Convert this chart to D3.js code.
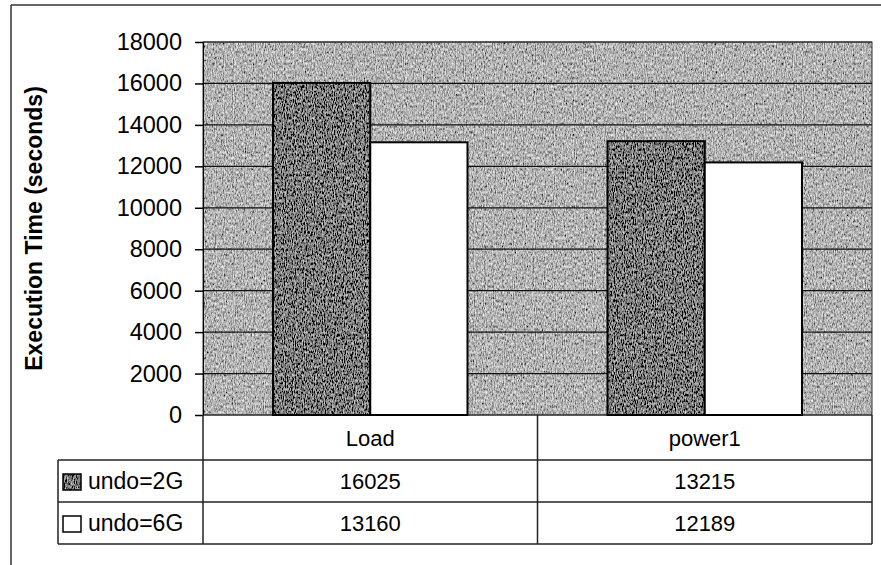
<!DOCTYPE html>
<html>
<head>
<meta charset="utf-8">
<script src="https://cdn.jsdelivr.net/npm/d3@7"></script>
<style>
  body { margin: 0; background: #fff; }
  svg text { font-family: Arial, "Liberation Sans", sans-serif; fill: #000; }
</style>
</head>
<body>
<svg id="chart" width="881" height="565"></svg>
<script>
const categories = ["Load", "power1"];
const seriesNames = ["undo=2G", "undo=6G"];
const undo2G = [16025, 13215];
const undo6G = [13160, 12189];
const yTicks = [0, 2000, 4000, 6000, 8000, 10000, 12000, 14000, 16000, 18000];

const svg = d3.select("#chart");
const plot = { left: 203, right: 872, top: 42, bottom: 415 };
const rowH = [45, 42, 42];
const fs = 22;

// noise filters to mimic the scanned grey fill
const defs = svg.append("defs");
function noise(id, seed, lo, hi) {
  const f = defs.append("filter").attr("id", id).attr("x", 0).attr("y", 0).attr("width", 1).attr("height", 1);
  f.append("feTurbulence").attr("type", "fractalNoise").attr("baseFrequency", "0.9 0.35")
    .attr("numOctaves", 2).attr("seed", seed).attr("result", "n");
  const ct = f.append("feComponentTransfer").attr("in", "n").attr("result", "g");
  ["R", "G", "B"].forEach(c => ct.append("feFunc" + c).attr("type", "linear").attr("slope", hi - lo).attr("intercept", lo));
  ct.append("feFuncA").attr("type", "linear").attr("slope", 0).attr("intercept", 1);
  f.append("feColorMatrix").attr("in", "g").attr("type", "matrix")
    .attr("values", "0 1 0 0 0  0 1 0 0 0  0 1 0 0 0  0 0 0 1 0");
}
noise("bgNoise", 3, -0.2, 1.1);
noise("darkNoise", 7, -0.5, 0.9);

// outer frame
svg.append("line").attr("x1", 11).attr("x2", 881).attr("y1", 5).attr("y2", 5).attr("stroke", "#333").attr("stroke-width", 1.5);
svg.append("line").attr("x1", 11).attr("x2", 11).attr("y1", 5).attr("y2", 565).attr("stroke", "#333").attr("stroke-width", 1.5);

const y = d3.scaleLinear().domain([0, 18000]).range([plot.bottom, plot.top]);
const x0 = d3.scaleBand().domain(categories).range([plot.left, plot.right]);
const x1 = d3.scaleBand().domain(seriesNames).range([0, x0.bandwidth()]).paddingOuter(0.72).paddingInner(0);

// plot background
svg.append("rect").attr("x", plot.left).attr("y", plot.top)
  .attr("width", plot.right - plot.left).attr("height", plot.bottom - plot.top)
  .attr("fill", "#999").attr("filter", "url(#bgNoise)");

// gridlines
svg.append("g").selectAll("line").data(yTicks).join("line")
  .attr("x1", plot.left).attr("x2", plot.right)
  .attr("y1", d => y(d)).attr("y2", d => y(d))
  .attr("stroke", "#111").attr("stroke-width", 1.2);

svg.append("rect").attr("x", plot.left).attr("y", plot.top)
  .attr("width", plot.right - plot.left).attr("height", plot.bottom - plot.top)
  .attr("fill", "none").attr("stroke", "#333");

// bars
const rows = categories.map((c, i) => ({ cat: c, vals: [undo2G[i], undo6G[i]] }));
const g = svg.append("g");
rows.forEach(r => {
  r.vals.forEach((v, j) => {
    const bx = x0(r.cat) + x1(seriesNames[j]);
    g.append("rect").attr("x", bx).attr("y", y(v))
      .attr("width", x1.bandwidth()).attr("height", y(0) - y(v))
      .attr("fill", j === 0 ? "#555" : "#fff")
      .attr("filter", j === 0 ? "url(#darkNoise)" : null);
    g.append("rect").attr("x", bx).attr("y", y(v))
      .attr("width", x1.bandwidth()).attr("height", y(0) - y(v))
      .attr("fill", "none").attr("stroke", "#000").attr("stroke-width", 2);
  });
});

// y axis
const yAxis = d3.axisLeft(y).tickValues(yTicks).tickSize(8).tickPadding(13).tickFormat(d3.format("d"));
const ya = svg.append("g").attr("transform", `translate(${plot.left},0)`).call(yAxis);
ya.select(".domain").attr("stroke", "#000");
ya.selectAll(".tick line").attr("stroke", "#000").attr("stroke-width", 1.5);
ya.selectAll("text").attr("font-size", 23.5).attr("fill", "#000").attr("font-family", "Arial, 'Liberation Sans', sans-serif");

svg.append("text")
  .attr("transform", `translate(42,${(87 + 370) / 2}) rotate(-90)`)
  .attr("text-anchor", "middle")
  .attr("font-size", 23).attr("font-weight", "bold")
  .text("Execution Time (seconds)");

// data table
const tableLeft = 58;
const rowTops = [plot.bottom, plot.bottom + rowH[0], plot.bottom + rowH[0] + rowH[1]];
const tableBottom = rowTops[2] + rowH[2];
const t = svg.append("g").attr("stroke", "#222").attr("stroke-width", 1.5);
[rowTops[1], rowTops[2], tableBottom].forEach(yy =>
  t.append("line").attr("x1", tableLeft).attr("x2", plot.right).attr("y1", yy).attr("y2", yy));
t.append("line").attr("x1", tableLeft).attr("x2", tableLeft).attr("y1", rowTops[1]).attr("y2", tableBottom);
[plot.left, x0("power1"), plot.right].forEach(xx =>
  t.append("line").attr("x1", xx).attr("x2", xx).attr("y1", plot.bottom).attr("y2", tableBottom));

categories.forEach(c => {
  svg.append("text").attr("x", x0(c) + x0.bandwidth() / 2).attr("y", rowTops[0] + rowH[0] / 2 + 1)
    .attr("text-anchor", "middle").attr("dominant-baseline", "central").attr("font-size", fs).text(c);
});
[undo2G, undo6G].forEach((vals, j) => {
  const cy = rowTops[j + 1] + rowH[j + 1] / 2;
  vals.forEach((v, i) => {
    svg.append("text").attr("x", x0(categories[i]) + x0.bandwidth() / 2).attr("y", cy)
      .attr("text-anchor", "middle").attr("dominant-baseline", "central").attr("font-size", fs).text(v);
  });
  svg.append("rect").attr("x", tableLeft + 5).attr("y", cy - 7).attr("width", 18).attr("height", 16)
    .attr("fill", j === 0 ? "#555" : "#fff").attr("filter", j === 0 ? "url(#darkNoise)" : null);
  svg.append("rect").attr("x", tableLeft + 5).attr("y", cy - 7).attr("width", 18).attr("height", 16)
    .attr("fill", "none").attr("stroke", "#000").attr("stroke-width", 1.5);
  svg.append("text").attr("x", tableLeft + 30).attr("y", cy)
    .attr("dominant-baseline", "central").attr("font-size", 23).text(seriesNames[j]);
});
</script>
</body>
</html>
